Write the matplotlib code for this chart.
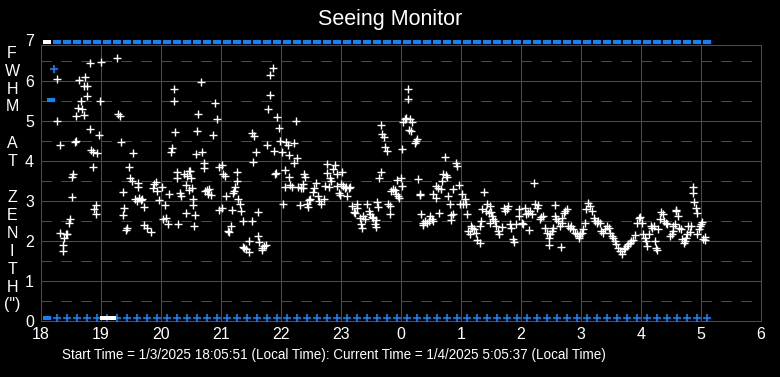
import numpy as np
import matplotlib
matplotlib.use('Agg')
import matplotlib.pyplot as plt

plt.rcParams['font.family'] = ['Liberation Sans', 'DejaVu Sans']

# FWHM samples: hour of night (18 .. 29 = 5h next day) and value in arcsec
fwhm_time = [
    18.26, 18.27, 18.31, 18.32, 18.36, 18.37, 18.39, 18.42, 18.43, 18.47, 18.49, 18.51, 18.52, 18.54,
    18.56, 18.58, 18.59, 18.61, 18.64, 18.67, 18.69, 18.71, 18.72, 18.74, 18.76, 18.77, 18.81, 18.82,
    18.83, 18.86, 18.87, 18.89, 18.91, 18.92, 18.94, 18.97, 18.99, 19.00, 19.27, 19.29, 19.32, 19.34,
    19.36, 19.37, 19.39, 19.41, 19.43, 19.46, 19.49, 19.52, 19.54, 19.57, 19.60, 19.61, 19.62, 19.64,
    19.67, 19.69, 19.71, 19.72, 19.77, 19.83, 19.86, 19.89, 19.92, 19.94, 19.97, 20.02, 20.04, 20.06,
    20.08, 20.12, 20.14, 20.17, 20.19, 20.21, 20.22, 20.24, 20.26, 20.27, 20.29, 20.31, 20.34, 20.39,
    20.41, 20.42, 20.44, 20.46, 20.47,
    20.48, 20.50, 20.51, 20.53, 20.54, 20.55, 20.57, 20.58, 20.60, 20.62, 20.67, 20.69, 20.71, 20.72,
    20.74, 20.76, 20.78, 20.80, 20.84, 20.87, 20.90, 20.94, 20.96, 20.97, 21.01, 21.02, 21.04, 21.06,
    21.09, 21.12, 21.14, 21.17, 21.19, 21.20, 21.21, 21.23, 21.26, 21.27, 21.29, 21.31, 21.34, 21.36,
    21.37, 21.39, 21.42, 21.46, 21.47, 21.51, 21.52, 21.53, 21.55, 21.59, 21.61, 21.62, 21.63, 21.68,
    21.69, 21.72, 21.75, 21.77, 21.79, 21.81, 21.82, 21.86, 21.88, 21.90, 21.92, 21.94, 21.96, 21.98,
    22.02, 22.04, 22.06, 22.07, 22.09, 22.12, 22.13, 22.14, 22.15, 22.19, 22.21, 22.22, 22.25, 22.27,
    22.29, 22.31, 22.33, 22.36, 22.37, 22.39, 22.40, 22.44, 22.45, 22.47, 22.48, 22.53, 22.55, 22.58,
    22.62, 22.64, 22.67, 22.71, 22.73, 22.76, 22.77, 22.80, 22.82, 22.84, 22.87, 22.90, 22.93, 22.94,
    22.97, 22.98,
    23.00, 23.01, 23.04, 23.07, 23.09, 23.10, 23.13, 23.15, 23.18, 23.21, 23.23, 23.26, 23.27, 23.32,
    23.34, 23.35, 23.37, 23.40, 23.44, 23.46, 23.48, 23.51, 23.54, 23.57, 23.58, 23.59, 23.60, 23.62,
    23.64, 23.66, 23.67, 23.69, 23.72, 23.74, 23.76, 23.79, 23.81, 23.82, 23.84, 23.87, 23.90, 23.92,
    23.93, 23.95, 23.97, 24.00, 24.01, 24.02, 24.04, 24.07, 24.08, 24.11, 24.12, 24.13, 24.15, 24.17,
    24.19, 24.23, 24.25, 24.27, 24.29, 24.31, 24.32, 24.34, 24.36, 24.37, 24.40, 24.43, 24.46, 24.49,
    24.51, 24.53, 24.54, 24.58, 24.59, 24.62, 24.64, 24.67, 24.69, 24.70, 24.74, 24.75, 24.77, 24.79,
    24.81, 24.83, 24.84, 24.86, 24.87, 24.92, 24.94, 24.97, 24.99, 25.02, 25.04, 25.07, 25.09, 25.10,
    25.12, 25.15, 25.16, 25.19, 25.21, 25.25, 25.26, 25.31, 25.32, 25.34, 25.35, 25.38, 25.41, 25.44,
    25.47, 25.48,
    25.49, 25.50, 25.51, 25.54, 25.57, 25.59, 25.62, 25.64, 25.68, 25.71, 25.73, 25.76, 25.79, 25.82,
    25.84, 25.87, 25.88, 25.92, 25.96, 25.97, 26.01, 26.04, 26.07, 26.09, 26.12, 26.14, 26.15, 26.18,
    26.21, 26.23, 26.26, 26.29, 26.32, 26.34, 26.37, 26.40, 26.43, 26.46, 26.47, 26.48, 26.51, 26.54,
    26.56, 26.57, 26.59, 26.62, 26.65, 26.66, 26.68, 26.69, 26.72, 26.73, 26.76, 26.79, 26.82, 26.84,
    26.87, 26.90, 26.93, 26.96, 26.97, 26.98, 27.01, 27.04, 27.06, 27.08, 27.12, 27.15, 27.18, 27.21,
    27.23, 27.26, 27.29, 27.32, 27.34, 27.37, 27.40, 27.43, 27.46, 27.48, 27.51, 27.54, 27.57, 27.59,
    27.62, 27.65, 27.68, 27.71, 27.73, 27.76, 27.79, 27.82, 27.84, 27.87, 27.90, 27.93, 27.97,
    27.98, 28.01, 28.04, 28.07, 28.09, 28.10, 28.14, 28.16, 28.18, 28.21, 28.23, 28.25, 28.26, 28.28,
    28.32, 28.33, 28.36, 28.38, 28.42, 28.44, 28.48, 28.51, 28.53, 28.54, 28.57, 28.58, 28.59, 28.61,
    28.64, 28.66, 28.69, 28.71, 28.73, 28.75, 28.76, 28.79, 28.82, 28.84, 28.86, 28.87, 28.89, 28.91,
    28.93, 28.94, 28.96, 28.98, 29.00, 29.02, 29.04, 29.06, 29.07,
]
fwhm_value = [
    6.04, 5.00, 4.39, 2.19, 1.74, 1.90, 2.08, 2.17, 2.18, 2.45, 2.54, 3.10, 3.60, 3.67,
    4.48, 4.50, 5.12, 5.33, 6.02, 5.49, 5.29, 5.15, 5.87, 6.10, 5.87, 5.62, 6.44, 4.79,
    4.27, 4.22, 3.85, 2.79, 2.89, 2.67, 4.19, 4.64, 5.49, 6.48, 6.57, 5.18, 5.12, 4.47,
    3.22, 2.64, 2.82, 2.27, 2.33, 3.84, 3.58, 3.50, 4.19, 3.05, 3.00, 3.44, 3.35, 3.08,
    3.02, 3.05, 2.85, 2.40, 2.32, 2.23, 3.33, 3.42, 3.48, 3.25, 3.02, 3.36, 2.54, 2.89,
    2.58, 2.42, 3.17, 4.22, 4.32, 5.49, 5.81, 4.73, 3.72, 3.57, 2.42, 3.21, 3.12, 3.67,
    2.69, 3.40, 3.62, 3.27, 3.75,
    3.75, 3.58, 3.33, 3.04, 2.89, 2.38, 2.65, 4.17, 4.75, 5.17, 5.98, 4.22, 3.94, 3.82,
    3.25, 3.28, 3.18, 3.29, 3.14, 4.64, 5.44, 5.04, 3.85, 2.77, 2.83, 3.89, 3.68, 3.63,
    3.12, 2.25, 2.23, 2.37, 2.77, 3.20, 3.25, 3.36, 3.50, 3.72, 3.04, 2.92, 2.74, 2.49,
    1.85, 1.83, 1.79, 1.73, 2.00, 2.49, 4.69, 3.97, 4.62, 4.22, 2.72, 2.13, 1.98, 1.83,
    1.78, 1.88, 1.90, 4.39, 5.29, 5.64, 6.14, 6.32, 4.25, 3.67, 3.71, 5.09, 4.82, 4.50,
    4.22, 2.92, 3.35, 3.77, 4.47, 4.39, 4.14, 3.59, 3.40, 3.36, 3.94, 4.44, 5.00, 4.07,
    3.35, 2.89, 3.33, 3.33, 3.42, 3.67, 3.60, 2.92, 2.86, 3.02, 3.06, 3.23, 3.33, 3.46,
    3.12, 3.00, 2.92, 3.04, 3.38, 3.92, 3.71, 3.35, 3.58, 3.50, 3.79, 3.90, 3.67, 3.38,
    3.21, 3.15,
    3.42, 3.72, 3.38, 3.33, 3.36, 3.12, 3.33, 3.35, 2.88, 2.73, 2.69, 2.92, 2.83, 2.58,
    2.43, 2.32, 2.62, 2.56, 2.92, 2.75, 2.67, 2.61, 2.58, 2.42, 2.52, 2.35, 2.98, 2.85,
    3.58, 3.72, 4.89, 4.68, 4.61, 4.35, 4.25, 2.93, 2.88, 2.67, 3.25, 3.30, 3.27, 3.17,
    3.53, 3.12, 3.08, 3.58, 3.38, 4.29, 4.98, 5.04, 5.08, 5.79, 5.54, 4.78, 5.04, 4.75,
    4.98, 4.46, 4.50, 4.54, 3.54, 3.17, 3.15, 2.68, 2.40, 2.45, 2.50, 2.46, 2.50, 2.62,
    2.55, 2.50, 3.17, 3.08, 3.38, 3.33, 2.71, 3.29, 3.50, 3.67, 4.11, 3.64, 3.60, 3.12,
    2.93, 2.65, 2.52, 2.68, 3.29, 3.96, 3.88, 3.39, 2.93, 3.17, 2.92, 3.04, 2.92, 2.67,
    2.25, 2.18, 2.38, 2.33, 2.29, 2.21, 2.02, 1.94, 2.38, 2.50, 2.79, 3.23, 2.75, 2.92,
    2.71, 2.46,
    2.88, 2.73, 2.63, 2.54, 2.50, 2.38, 2.25, 2.17, 2.35, 2.83, 2.75, 2.79, 2.88, 2.42,
    2.33, 2.04, 1.98, 2.43, 2.79, 2.63, 2.46, 2.42, 2.83, 2.67, 2.71, 2.28, 2.75, 2.67,
    3.46, 2.92, 2.83, 2.90, 2.54, 2.60, 2.63, 2.33, 2.21, 2.08, 1.90, 2.17, 2.25, 2.32,
    2.89, 2.63, 2.54, 2.50, 2.38, 1.85, 2.46, 2.58, 2.71, 2.75, 2.79, 2.38, 2.33, 2.38,
    2.29, 2.21, 2.17, 2.08, 2.13, 2.18, 2.21, 2.29, 2.46, 2.79, 2.94, 2.88, 2.75, 2.58,
    2.50, 2.46, 2.50, 2.46, 2.25, 2.21, 2.29, 2.38, 2.33, 2.21, 2.13, 2.08, 2.00, 1.92,
    1.83, 1.75, 1.67, 1.79, 1.83, 1.88, 1.92, 1.96, 2.00, 2.02, 2.15, 2.46, 2.58,
    2.60, 2.46, 2.17, 2.08, 2.00, 1.88, 2.17, 2.38, 2.33, 2.38, 2.00, 1.83, 1.77, 2.29,
    2.54, 2.73, 2.67, 2.50, 2.46, 2.42, 2.13, 2.17, 2.25, 2.38, 2.42, 2.75, 2.77, 2.63,
    2.33, 2.29, 2.04, 1.96, 2.00, 2.08, 2.17, 2.38, 2.23, 2.38, 3.35, 3.19, 2.97, 2.83,
    2.71, 2.18, 2.29, 2.38, 2.42, 2.48, 2.04, 2.02, 2.11,
]

# status samples every 10 min (minutes after 18:00)
status_min = [6, 16, 26, 36, 46, 56, 66, 76, 86, 96, 106, 116, 126, 136, 146, 156, 166, 176, 186,
              196, 206, 216, 226, 236, 246, 256, 266, 276, 286, 296, 306, 316, 326, 336, 346, 356,
              366, 376, 386, 396, 406, 416, 426, 436, 446, 456, 466, 476, 486, 496, 506, 516, 526,
              536, 546, 556, 566, 576, 586, 596, 606, 616, 626, 636, 646, 656, 666]
bottom_white_min = [63, 71]
blue_plus = (18.22, 6.29)
blue_square = (18.17, 5.52)

hour_ticks = [18, 19, 20, 21, 22, 23, 24, 25, 26, 27, 28, 29, 30]
hour_labels = ['18', '19', '20', '21', '22', '23', '0', '1', '2', '3', '4', '5', '6']
y_ticks = [0, 1, 2, 3, 4, 5, 6]

W, H = 780, 377
fig = plt.figure(figsize=(W / 100, H / 100), dpi=100, facecolor='black')
ax = fig.add_axes([41 / W, (H - 321) / H, 720 / W, 276 / H], facecolor='black')
ax.set_xlim(18, 30)
ax.set_ylim(0, 6.9)

red = '#ff0000'
blue = '#0a84ff'
lw = 0.72  # one pixel at 100 dpi
for h in hour_ticks[1:-1]:
    ax.axvline(h, color=red, lw=lw, snap=True, zorder=1)
for v in y_ticks[1:]:
    ax.axhline(v, color=red, lw=lw, snap=True, zorder=1)
for v in np.arange(0.5, 7, 1.0):
    ax.axhline(v, color=red, lw=lw, ls=(0, (10.5, 9.5)), snap=True, zorder=1)
for s in ax.spines.values():
    s.set_color(red)
    s.set_linewidth(lw)
    s.set_snap(True)

ax.plot(fwhm_time, fwhm_value, '+', color='white', ms=5.5, mew=1.0, ls='none', zorder=3)

st = np.array(status_min) / 60.0 + 18
rect = [(-1, -0.6), (1, -0.6), (1, 0.6), (-1, 0.6), (-1, -0.6)]
ax.plot(st[1:], [6.97] * (len(st) - 1), marker=rect, color=blue, ms=5.6, mew=0, ls='none',
        clip_on=False, zorder=4)
ax.plot(st[:1], [6.97], marker=rect, color='white', ms=5.6, mew=0, ls='none', clip_on=False, zorder=4)
ax.plot(st[1:], [0.07] * (len(st) - 1), '+', color=blue, ms=6, mew=1.2, ls='none', clip_on=False, zorder=4)
ax.plot(st[:1], [0.07], marker=rect, color=blue, ms=5.6, mew=0, ls='none', clip_on=False, zorder=4)
bw = np.array(bottom_white_min) / 60.0 + 18
ax.plot(bw, [0.07] * len(bw), marker=rect, color='white', ms=5.6, mew=0, ls='none', clip_on=False, zorder=5)
ax.plot([blue_plus[0]], [blue_plus[1]], '+', color=blue, ms=6, mew=1.2, zorder=4)
ax.plot([blue_square[0]], [blue_square[1]], marker=rect, color=blue, ms=5.6, mew=0, zorder=4)

ax.set_xticks(hour_ticks)
ax.set_xticklabels(hour_labels)
ax.set_yticks(y_ticks)
ax.tick_params(axis='x', length=0, colors='white', labelsize=11.5, pad=4)
ax.tick_params(axis='y', length=0, colors='white', labelsize=11.5, pad=5)
ax.text(-0.0095, 7, '7', transform=ax.get_yaxis_transform(), ha='right', va='center',
        color='white', fontsize=11.5)

fig.text(0.5, 1 - 20 / H, 'Seeing Monitor', ha='center', va='center', color='white', fontsize=15.5)
fig.text(62 / W, 1 - 355 / H,
         'Start Time = 1/3/2025 18:05:51 (Local Time): Current Time = 1/4/2025 5:05:37 (Local Time)',
         ha='left', va='center', color='white', fontsize=9.75)

side = ['F', 'W', 'H', 'M', '', 'A', 'T', '', 'Z', 'E', 'N', 'I', 'T', 'H', '(")']
for i, ch in enumerate(side):
    fig.text(12 / W, 1 - (53 + 18 * i) / H, ch, ha='center', va='center', color='white', fontsize=11.5)

fig.savefig('out.png', dpi=100, facecolor='black')
